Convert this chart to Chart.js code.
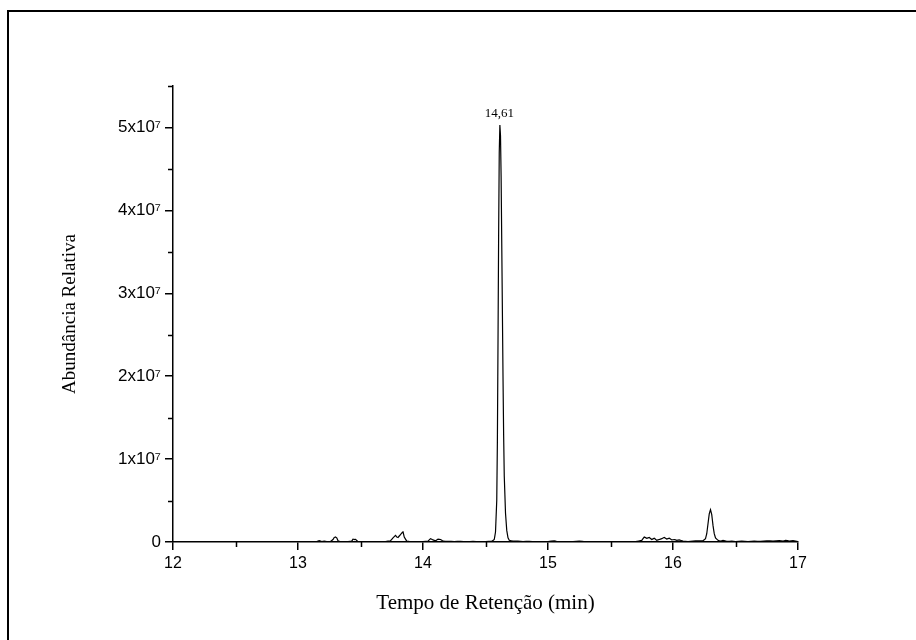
<!DOCTYPE html>
<html>
<head>
<meta charset="utf-8">
<script src="https://cdn.jsdelivr.net/npm/chart.js@4/dist/chart.umd.min.js"></script>
<style>
  html, body { margin: 0; padding: 0; background: #fff; }
  #wrap { position: relative; width: 916px; height: 640px; overflow: hidden; }
  #frame { position: absolute; left: 7px; top: 10px; width: 1000px; height: 800px;
           border-left: 2px solid #000; border-top: 2px solid #000; }
  canvas { position: absolute; left: 0; top: 0; }
</style>
</head>
<body>
<div id="wrap">
  <div id="frame"></div>
  <canvas id="c" width="916" height="640"></canvas>
</div>
<script>
// Retention time (min)
const retentionTime = [
  12.00, 13.10, 13.15, 13.17, 13.19, 13.21, 13.23, 13.26, 13.28, 13.29, 13.30, 13.31, 13.32, 13.34,
  13.40, 13.43, 13.44, 13.45, 13.46, 13.48, 13.55, 13.70, 13.74, 13.76, 13.78, 13.79, 13.80, 13.82,
  13.84, 13.85, 13.87, 13.90, 14.00, 14.04, 14.06, 14.08, 14.10, 14.12, 14.14, 14.16, 14.20, 14.25,
  14.30, 14.35, 14.40, 14.45, 14.50, 14.55, 14.57, 14.58, 14.59, 14.595, 14.60, 14.605, 14.61, 14.615,
  14.62, 14.625, 14.63, 14.635, 14.64, 14.645, 14.65, 14.66, 14.67, 14.68, 14.69, 14.72, 14.76, 14.80,
  14.85, 14.90, 15.00, 15.05, 15.07, 15.10, 15.20, 15.25, 15.30, 15.40, 15.50, 15.60, 15.70, 15.75,
  15.77, 15.79, 15.81, 15.83, 15.85, 15.87, 15.89, 15.91, 15.93, 15.95, 15.97, 15.99, 16.01, 16.03,
  16.05, 16.08, 16.12, 16.16, 16.20, 16.24, 16.26, 16.27, 16.28, 16.29, 16.30, 16.31, 16.32, 16.33,
  16.34, 16.36, 16.38, 16.40, 16.43, 16.47, 16.50, 16.55, 16.60, 16.65, 16.70, 16.75, 16.80, 16.85,
  16.88, 16.90, 16.93, 16.96, 17.00
];
// Relative abundance
const abundance = [
  0, 0, 5e4, 1.5e5, 5e4, 1.2e5, 5e4, 5e4, 3e5, 5.5e5, 6e5, 5e5, 1.5e5, 3e4,
  5e4, 1e5, 3.5e5, 3e5, 3.2e5, 5e4, 3e4, 5e4, 1.5e5, 5e5, 8e5, 6e5, 5.5e5, 9e5,
  1.25e6, 6e5, 1e5, 3e4, 4e4, 1e5, 4e5, 2.5e5, 1.5e5, 3.5e5, 3e5, 1e5, 8e4, 5e4,
  8e4, 4e4, 7e4, 4e4, 6e4, 8e4, 3e5, 1.2e6, 5e6, 1.2e7, 2.4e7, 3.7e7, 4.7e7, 5.03e7,
  4.9e7, 4.4e7, 3.6e7, 2.8e7, 2.0e7, 1.3e7, 8e6, 3.5e6, 1.4e6, 5e5, 2e5, 1e5, 1.2e5, 5e4,
  8e4, 4e4, 6e4, 1.5e5, 5e4, 6e4, 4e4, 1e5, 3e4, 5e4, 4e4, 6e4, 5e4, 2e5,
  6e5, 4.5e5, 5.5e5, 3e5, 4.5e5, 2e5, 3e5, 4e5, 5.5e5, 3.5e5, 4.5e5, 2.5e5, 3e5, 2e5,
  2.5e5, 1e5, 5e4, 1.2e5, 1.5e5, 1.5e5, 4e5, 1e6, 2.2e6, 3.4e6, 3.9e6, 3.3e6, 2e6, 1e6,
  5e5, 2e5, 1e5, 2e5, 8e4, 1e5, 5e4, 1.2e5, 5e4, 1e5, 8e4, 1.5e5, 1.2e5, 1.8e5,
  1e5, 2e5, 1.2e5, 1.8e5, 5e4
];
const xTickValues = [12, 13, 14, 15, 16, 17];
const xMinorTicks = [12.5, 13.5, 14.5, 15.5, 16.5];
const yTickValues = [0, 1e7, 2e7, 3e7, 4e7, 5e7];
const yTickLabels = ['0', '1x10\u2077', '2x10\u2077', '3x10\u2077', '4x10\u2077', '5x10\u2077'];
const yMinorTicks = [5e6, 1.5e7, 2.5e7, 3.5e7, 4.5e7, 5.5e7];
const peakLabels = [{ x: 14.61, text: '14,61' }];

const points = retentionTime.map((t, i) => ({ x: t, y: abundance[i] }));

const extras = {
  id: 'extras',
  afterDraw(chart) {
    const ctx = chart.ctx;
    const xs = chart.scales.x, ys = chart.scales.y;
    ctx.save();
    ctx.strokeStyle = '#000';
    ctx.lineWidth = 1.5;
    ctx.beginPath();
    xMinorTicks.forEach(v => {
      const px = Math.round(xs.getPixelForValue(v)) + 0.5;
      ctx.moveTo(px, ys.bottom);
      ctx.lineTo(px, ys.bottom + 5);
    });
    yMinorTicks.forEach(v => {
      const py = Math.round(ys.getPixelForValue(v)) + 0.5;
      ctx.moveTo(xs.left, py);
      ctx.lineTo(xs.left - 5, py);
    });
    ctx.stroke();
    // peak annotation
    ctx.fillStyle = '#000';
    ctx.font = '13px "Liberation Serif", "Times New Roman", serif';
    ctx.textAlign = 'center';
    ctx.textBaseline = 'bottom';
    peakLabels.forEach(p => {
      let best = 0;
      retentionTime.forEach((t, i) => {
        if (Math.abs(t - p.x) < 0.03 && abundance[i] > best) best = abundance[i];
      });
      ctx.fillText(p.text, xs.getPixelForValue(p.x), ys.getPixelForValue(best) - 5);
    });
    ctx.restore();
  }
};

new Chart(document.getElementById('c'), {
  type: 'line',
  data: {
    datasets: [{
      data: points,
      borderColor: '#000',
      borderWidth: 1.2,
      pointRadius: 0,
      tension: 0.001,
      fill: false
    }]
  },
  options: {
    responsive: false,
    animation: false,
    layout: { padding: { left: 0, top: 86, right: 118, bottom: 0 } },
    plugins: { legend: { display: false }, tooltip: { enabled: false } },
    scales: {
      x: {
        type: 'linear',
        min: 12, max: 17,
        afterFit: s => { s.height = 98; },
        afterBuildTicks: s => { s.ticks = xTickValues.map(v => ({ value: v })); },
        border: { display: true, color: '#000', width: 1.5 },
        grid: { display: true, drawOnChartArea: false, drawTicks: true, tickLength: 8, color: '#000', lineWidth: 1.5 },
        ticks: {
          color: '#000', padding: 4, maxRotation: 0,
          font: { family: '"Liberation Sans", Arial, sans-serif', size: 16 },
          callback: v => String(v)
        },
        title: {
          display: true, text: 'Tempo de Retenção (min)', color: '#000',
          font: { family: '"Liberation Serif", "Times New Roman", serif', size: 21 },
          padding: { top: 0, bottom: 24 }
        }
      },
      y: {
        type: 'linear',
        min: 0, max: 5.5e7,
        afterFit: s => { s.width = 173; },
        afterBuildTicks: s => { s.ticks = yTickValues.map(v => ({ value: v })); },
        border: { display: true, color: '#000', width: 1.5 },
        grid: { display: true, drawOnChartArea: false, drawTicks: true, tickLength: 8, color: '#000', lineWidth: 1.5 },
        ticks: {
          color: '#000', padding: 4,
          font: { family: '"Liberation Sans", Arial, sans-serif', size: 17 },
          callback: (v) => { const i = yTickValues.indexOf(v); return i >= 0 ? yTickLabels[i] : ''; }
        },
        title: {
          display: true, text: 'Abundância Relativa', color: '#000',
          font: { family: '"Liberation Serif", "Times New Roman", serif', size: 19 },
          padding: { top: 59, bottom: 0 }
        }
      }
    }
  },
  plugins: [extras]
});
</script>
</body>
</html>
